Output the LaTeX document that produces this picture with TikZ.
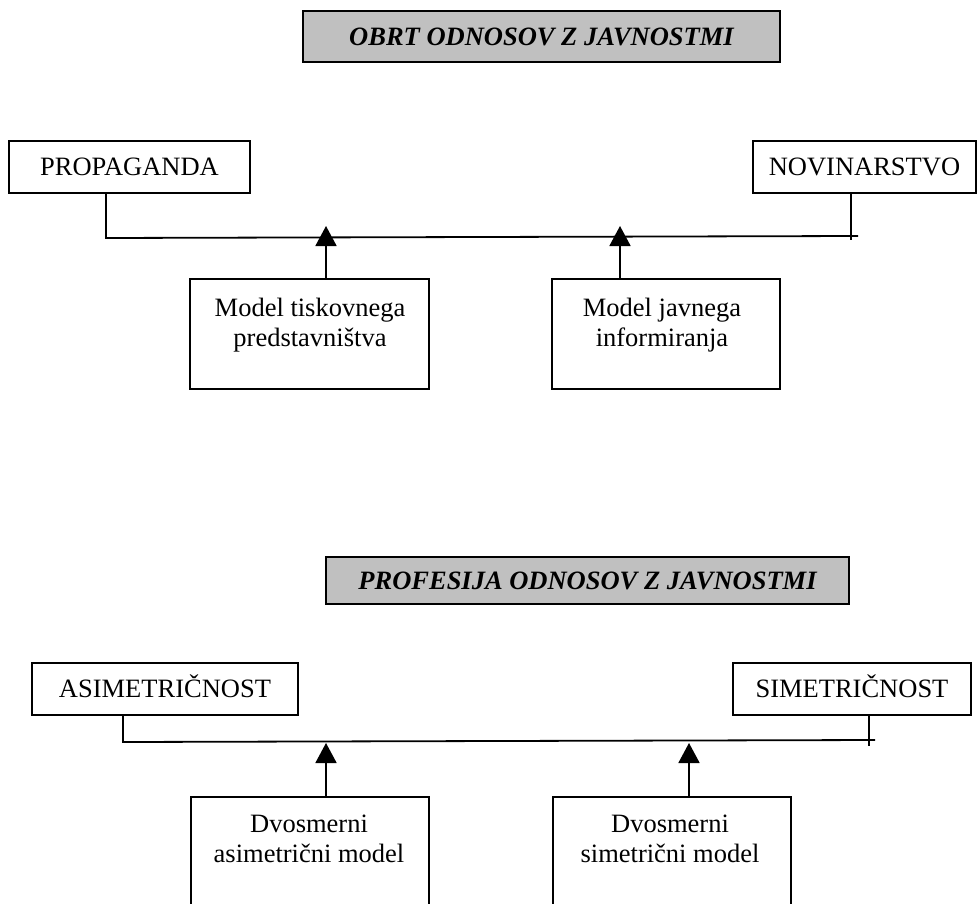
\documentclass[tikz,border=0pt]{standalone}
\usepackage{fontspec}
\setmainfont{Liberation Serif}
\usetikzlibrary{arrows.meta}
\definecolor{silver}{RGB}{192,192,192}
\begin{document}
\begin{tikzpicture}[x=1pt,y=-1pt,
  every node/.style={inner sep=0pt,outer sep=0pt},
  box/.style={draw,line width=1.5pt,font=\fontsize{26.5}{30}\selectfont,text height=17.5pt,text depth=0pt},
  frame/.style={draw,line width=1.5pt},
  txt/.style={font=\fontsize{26.5}{30}\selectfont,align=center},
  titlebox/.style={draw,line width=2.4pt,fill=silver,font=\fontsize{26.5}{30}\selectfont\bfseries\itshape,text height=17.5pt,text depth=0pt},
  link/.style={line width=1.8pt},
  arr/.style={line width=1.8pt,-{Triangle[width=21pt,length=20pt]}}]
\useasboundingbox (0,0) rectangle (979,904);
\clip (0,0) rectangle (979,904);

% ---------- upper part ----------
\node[titlebox,minimum width=477pt,minimum height=51pt] (t1) at (541.5,36.5) {OBRT ODNOSOV Z JAVNOSTMI};

\node[box,minimum width=241pt,minimum height=52pt] (prop) at (129.5,167) {PROPAGANDA};
\node[box,minimum width=223pt,minimum height=52pt] (novi) at (864.5,167) {NOVINARSTVO};

\node[frame,minimum width=239pt,minimum height=110pt] (m1) at (309.5,334) {};
\node[txt] (m1t) at (310,325) {Model tiskovnega\\predstavništva};
\node[frame,minimum width=228pt,minimum height=110pt] (m2) at (666,334) {};
\node[txt] (m2t) at (662,325) {Model javnega\\informiranja};

\coordinate (bl1) at (106,238);
\coordinate (br1) at (858,236);
\coordinate (tk1) at (851,240);
\coordinate (a1) at (326,226);
\coordinate (a2) at (620,226);

\draw[link] (prop.south -| bl1) -- (bl1) -- (br1);
\draw[link] (novi.south -| tk1) -- (tk1);
\draw[arr] (m1.north -| a1) -- (a1);
\draw[arr] (m2.north -| a2) -- (a2);

% ---------- lower part ----------
\node[titlebox,minimum width=523pt,minimum height=47pt] (t2) at (587.5,580.5) {PROFESIJA ODNOSOV Z JAVNOSTMI};

\node[box,minimum width=266pt,minimum height=52pt] (asim) at (165,689) {ASIMETRIČNOST};
\node[box,minimum width=238pt,minimum height=52pt] (sim) at (852,689) {SIMETRIČNOST};

\node[frame,minimum width=238pt,minimum height=123pt] (d1) at (310,858.5) {};
\node[txt] (d1t) at (309,839) {Dvosmerni\\asimetrični model};
\node[frame,minimum width=238pt,minimum height=123pt] (d2) at (672,858.5) {};
\node[txt] (d2t) at (670,839) {Dvosmerni\\simetrični model};

\coordinate (bl2) at (123,742);
\coordinate (br2) at (875,740);
\coordinate (tk2) at (869,746);
\coordinate (a3) at (326,743);
\coordinate (a4) at (689,743);

\draw[link] (asim.south -| bl2) -- (bl2) -- (br2);
\draw[link] (sim.south -| tk2) -- (tk2);
\draw[arr] (d1.north -| a3) -- (a3);
\draw[arr] (d2.north -| a4) -- (a4);
\end{tikzpicture}
\end{document}
